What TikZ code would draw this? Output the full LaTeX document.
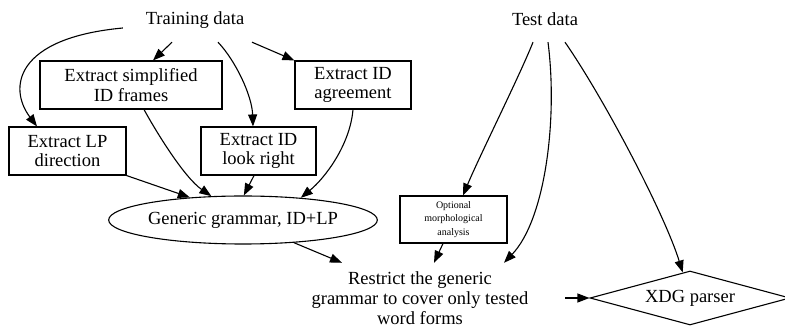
\documentclass[tikz,border=0pt]{standalone}
\usepackage{fontspec}
\setmainfont{Liberation Serif}
\usetikzlibrary{arrows.meta,shapes.geometric}
\begin{document}
\begin{tikzpicture}[x=1pt,y=-1pt,
  every node/.style={font=\fontsize{18.5}{19.8}\selectfont, inner sep=0pt, align=center},
  procbox/.style={draw, line width=1.1pt, minimum height=48pt},
  smallbox/.style={procbox, font=\fontsize{10}{13.5}\selectfont},
  source/.style={minimum width=144pt, minimum height=44pt},
  flow/.style={line width=1.1pt, -{Triangle[length=12pt,width=9pt]}}]
\useasboundingbox (0,0) rectangle (785,328);

% data sources
\node[source] (train) at (195,20) {Training data};
\node[source, minimum height=46pt] (test) at (545,19) {Test data};

% extraction steps
\node[procbox, minimum width=182pt] (simp)  at (131,85)    {Extract simplified\\ID frames};
\node[procbox, minimum width=116pt] (agree) at (353,85)    {Extract ID\\agreement};
\node[procbox, minimum width=117pt] (lp)    at (67.5,151)  {Extract LP\\direction};
\node[procbox, minimum width=115pt] (look)  at (258.5,151) {Extract ID\\look right};

% grammar and parsing
\node[ellipse, draw, line width=1.1pt, minimum width=268pt, minimum height=48pt]
  (generic) at (243,220) {Generic grammar, ID+LP};
\node[smallbox, minimum width=107pt, minimum height=47pt] (morph) at (453.5,219.5)
  {Optional\\morphological\\analysis};
\node[minimum width=290pt, minimum height=70pt] (restrict) at (420,298)
  {Restrict the generic\\grammar to cover only tested\\word forms};
\node[diamond, draw, line width=1.1pt, aspect=3.7, minimum width=200pt, minimum height=54pt]
  (xdg) at (690,298) {XDG parser};

% connectors
\draw[flow] ([yshift=-8pt]train.west) .. controls (15,38) and (8,88) .. ([xshift=-30.5pt]lp.north);
\draw[flow] ([xshift=-23pt]train.south) -- ([xshift=22pt]simp.north);
\draw[flow] ([xshift=23pt]train.south) .. controls (235,60) and (252,95) .. ([xshift=-5.5pt]look.north);
\draw[flow] ([xshift=57pt]train.south) -- (agree.north west);
\draw[flow] (lp.south east) -- (generic.157);
\draw[flow] ([xshift=13pt]simp.south) .. controls (158,135) and (185,178) .. (generic.143);
\draw[flow] ([xshift=-4.5pt]look.south) -- (generic.88);
\draw[flow] (agree.south) .. controls (350,145) and (325,178) .. (generic.21);
\draw[flow] (generic.336) -- ([xshift=-78pt]restrict.north);
\draw[flow] ([xshift=-10.5pt]morph.south) -- ([xshift=14pt]restrict.north);
\draw[flow] ([xshift=-12pt]test.south) .. controls (520,75) and (480,155) .. ([xshift=9.5pt]morph.north);
\draw[flow] ([xshift=3pt]test.south) .. controls (558,120) and (545,220) .. ([xshift=84pt]restrict.north);
\draw[flow] ([xshift=20pt]test.south) .. controls (605,100) and (665,215) .. (xdg.106);
\draw[flow] (restrict.east) -- (xdg.west);
\end{tikzpicture}
\end{document}
